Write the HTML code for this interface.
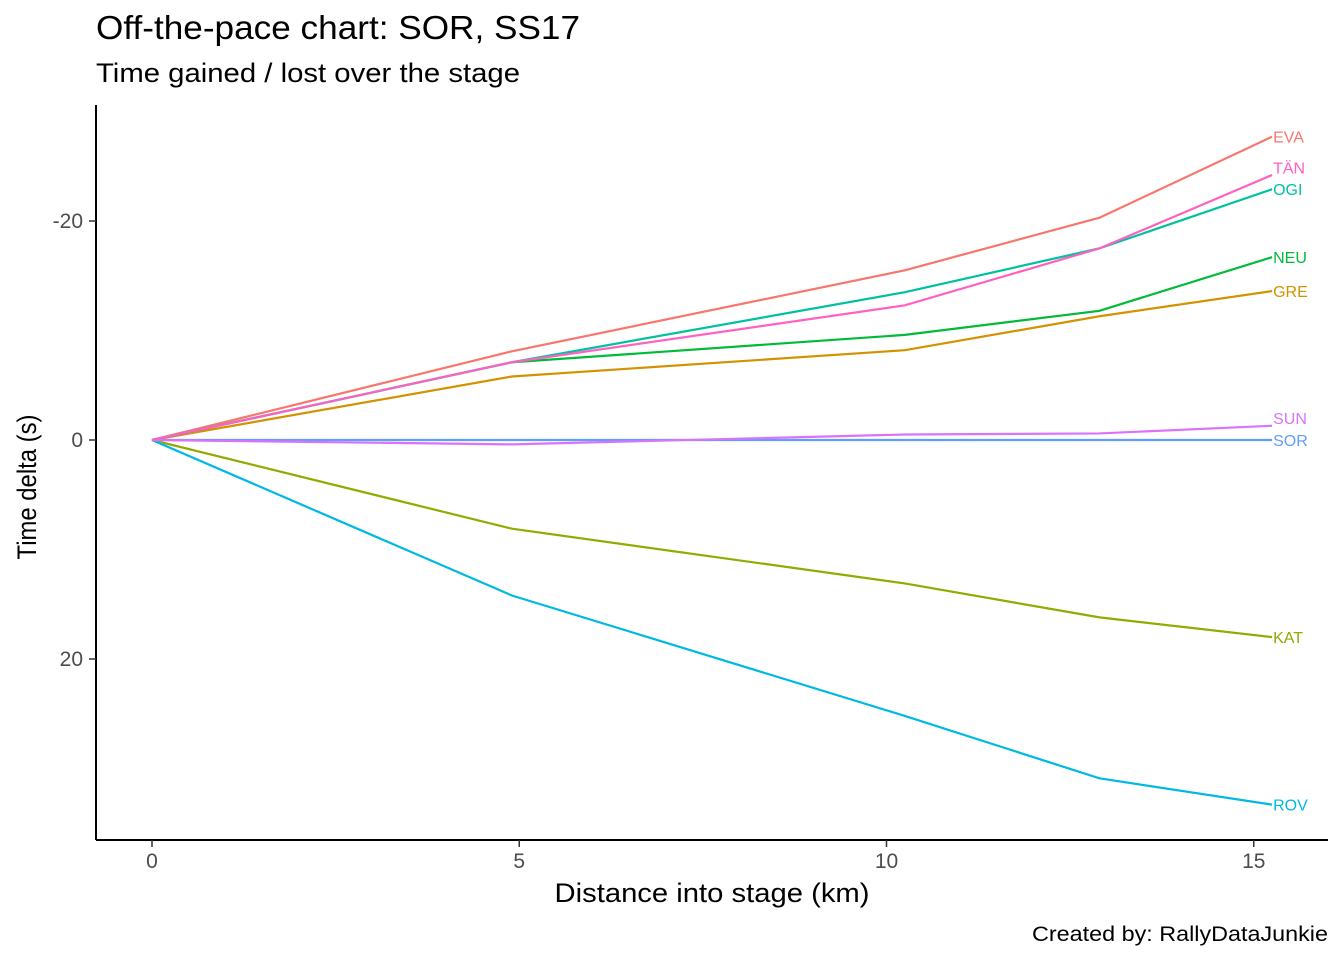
<!DOCTYPE html>
<html><head><meta charset="utf-8"><style>
body{margin:0;background:#fff;}
svg{display:block;font-family:"Liberation Sans",Arial,sans-serif;}
</style></head><body>
<svg id="chart" width="1344" height="960">
<rect width="1344" height="960" fill="#fff"/>
<text x="96" y="39" font-size="33" textLength="484" lengthAdjust="spacingAndGlyphs" fill="#000">Off-the-pace chart: SOR, SS17</text>
<text x="96" y="82" font-size="27" textLength="424" lengthAdjust="spacingAndGlyphs" fill="#000">Time gained / lost over the stage</text>
<g id="plot"></g>
<line x1="96" y1="105" x2="96" y2="840" stroke="#000" stroke-width="2"/>
<line x1="96" y1="840" x2="1328" y2="840" stroke="#000" stroke-width="2"/>
<g id="ticks"></g>
<text x="712" y="902" font-size="27" textLength="315" lengthAdjust="spacingAndGlyphs" text-anchor="middle" fill="#000">Distance into stage (km)</text>
<text transform="translate(36,487) rotate(-90)" font-size="27" textLength="145" lengthAdjust="spacingAndGlyphs" text-anchor="middle" fill="#000">Time delta (s)</text>
<text x="1328" y="941" font-size="21" textLength="296" lengthAdjust="spacingAndGlyphs" text-anchor="end" fill="#000">Created by: RallyDataJunkie</text>
</svg>
<script>
const distances = [0, 4.9, 10.25, 12.9, 15.25];
const drivers = ["EVA","GRE","KAT","NEU","OGI","ROV","SOR","SUN","TÄN"];
const colors = ["#F8766D","#D39200","#93AA00","#00BA38","#00C19F","#00B9E3","#619CFF","#DB72FB","#FF61C3"];
const EVA = [0,-8.1,-15.5,-20.3,-27.7];
const GRE = [0,-5.8,-8.2,-11.3,-13.6];
const KAT = [0,8.1,13.1,16.2,18.0];
const NEU = [0,-7.1,-9.6,-11.8,-16.7];
const OGI = [0,-7.1,-13.5,-17.5,-22.9];
const ROV = [0,14.2,25.2,30.9,33.3];
const SOR = [0,0,0,0,0];
const SUN = [0,0.4,-0.5,-0.6,-1.3];
const TAN = [0,-7.1,-12.3,-17.5,-24.2];
const series = [EVA,GRE,KAT,NEU,OGI,ROV,SOR,SUN,TAN];
const labelNudge = [0,0,0,0,0,0,0,-0.7,-0.7];
const xTicks = [0,5,10,15];
const yTicks = [-20,0,20];
const yTickLabels = ["-20","0","20"];

const xs = v => 152 + v*73.45;
const ys = v => 440 + v*10.95;
const NS = "http://www.w3.org/2000/svg";
const plot = document.getElementById("plot");
const ticks = document.getElementById("ticks");

xTicks.forEach(t=>{
  const l=document.createElementNS(NS,"line");
  l.setAttribute("x1",xs(t));l.setAttribute("x2",xs(t));l.setAttribute("y1",840);l.setAttribute("y2",847);
  l.setAttribute("stroke","#333");l.setAttribute("stroke-width","1.5");
  
  
  ticks.appendChild(l);
  const tx=document.createElementNS(NS,"text");
  tx.setAttribute("x",xs(t));tx.setAttribute("y",868);tx.setAttribute("font-size","21");
  tx.setAttribute("text-anchor","middle");tx.setAttribute("fill","#4d4d4d");tx.textContent=t;
  
  
  ticks.appendChild(tx);
});
yTicks.forEach((t,i)=>{
  const l=document.createElementNS(NS,"line");
  l.setAttribute("x1",89);l.setAttribute("x2",96);l.setAttribute("y1",ys(t));l.setAttribute("y2",ys(t));
  l.setAttribute("stroke","#333");l.setAttribute("stroke-width","1.5");
  
  
  ticks.appendChild(l);
  const tx=document.createElementNS(NS,"text");
  tx.setAttribute("x",83);tx.setAttribute("y",ys(t)+7);tx.setAttribute("font-size","21");
  tx.setAttribute("text-anchor","end");tx.setAttribute("fill","#4d4d4d");tx.textContent=yTickLabels[i];
  
  
  ticks.appendChild(tx);
});
series.forEach((s,i)=>{
  const p=document.createElementNS(NS,"polyline");
  p.setAttribute("points",s.map((v,j)=>xs(distances[j])+","+ys(v)).join(" "));
  p.setAttribute("fill","none");p.setAttribute("stroke",colors[i]);p.setAttribute("stroke-width","2.2");
  
  
  plot.appendChild(p);
  const tx=document.createElementNS(NS,"text");
  const last=s.length-1;
  tx.setAttribute("x",xs(distances[last])+1);tx.setAttribute("y",ys(s[last]+labelNudge[i])+6);
  tx.setAttribute("font-size","16");tx.setAttribute("fill",colors[i]);tx.textContent=drivers[i];
  
  
  plot.appendChild(tx);
});
</script>
</body></html>
